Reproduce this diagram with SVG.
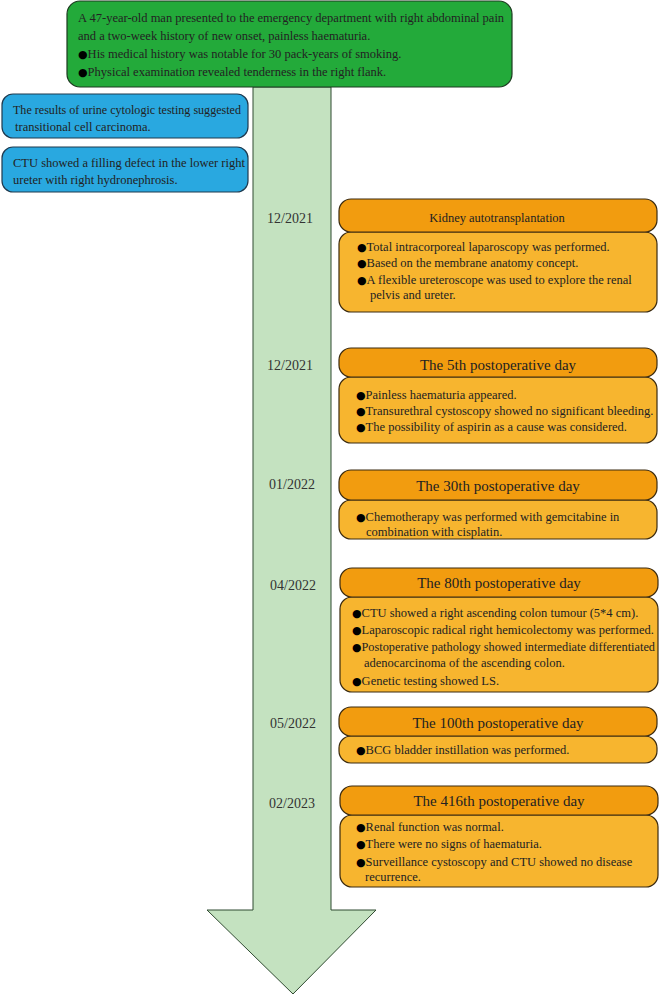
<svg xmlns="http://www.w3.org/2000/svg" width="661" height="994" viewBox="0 0 661 994">
<style>
text{font-family:"Liberation Serif","Times New Roman",serif;fill:#222}
.t{font-size:12.5px}
.b{font-family:"DejaVu Sans",sans-serif;font-size:11px;fill:#000}
.h{font-size:15px;text-anchor:middle}
.hs{font-size:12.5px;text-anchor:middle}
.d{font-size:14px;text-anchor:middle;fill:#333}
.hd{fill:#f29c0f;stroke:#3a2a10;stroke-width:1.2}
.bd{fill:#f7b52f;stroke:#3a2a10;stroke-width:1.2}
.bl{fill:#29a8e0;stroke:#1f3a4f;stroke-width:1.2}
</style>
<g id="connectors">
<path d="M253,87 L331,87 L331,910 L376,910 L293,994 L207,910 L253,910 Z" fill="#c4e2c0" stroke="#2f4a30" stroke-width="1"/>
</g>
<g id="intro">
<rect x="67" y="1" width="445" height="86" rx="13" fill="#23aa3a" stroke="#1d3a20" stroke-width="1.2"/>
<text class="t" x="78" y="22">A 47-year-old man presented to the emergency department with right abdominal pain</text>
<text class="t" x="78" y="40">and a two-week history of new onset, painless haematuria.</text>
<text class="t" x="78" y="58"><tspan class="b">●</tspan>His medical history was notable for 30 pack-years of smoking.</text>
<text class="t" x="78" y="76"><tspan class="b">●</tspan>Physical examination revealed tenderness in the right flank.</text>
</g>
<g id="cytology">
<rect x="2" y="94" width="246" height="44" rx="11" class="bl"/>
<text class="t" x="13" y="114" textLength="228" lengthAdjust="spacingAndGlyphs">The results of urine cytologic testing suggested</text>
<text class="t" x="15" y="131">transitional cell carcinoma.</text>
</g>
<g id="ctu">
<rect x="2" y="147" width="246" height="45" rx="11" class="bl"/>
<text class="t" x="13" y="167">CTU showed a filling defect in the lower right</text>
<text class="t" x="13" y="184">ureter with right hydronephrosis.</text>
</g>
<g id="s1">
<text class="d" x="290" y="223">12/2021</text>
<rect x="339" y="232" width="318" height="80" rx="12" class="bd"/>
<rect x="339" y="199" width="318" height="33" rx="12" class="hd"/>
<text class="hs" x="497" y="222">Kidney autotransplantation</text>
<text class="t" x="357" y="251"><tspan class="b">●</tspan>Total intracorporeal laparoscopy was performed.</text>
<text class="t" x="357" y="267"><tspan class="b">●</tspan>Based on the membrane anatomy concept.</text>
<text class="t" x="357" y="284"><tspan class="b">●</tspan>A flexible ureteroscope was used to explore the renal</text>
<text class="t" x="370" y="299">pelvis and ureter.</text>
</g>
<g id="s2">
<text class="d" x="290" y="370">12/2021</text>
<rect x="339" y="377" width="318" height="66" rx="12" class="bd"/>
<rect x="339" y="348" width="318" height="29" rx="12" class="hd"/>
<text class="h" x="498" y="370">The 5th postoperative day</text>
<text class="t" x="356" y="399"><tspan class="b">●</tspan>Painless haematuria appeared.</text>
<text class="t" x="356" y="415"><tspan class="b">●</tspan>Transurethral cystoscopy showed no significant bleeding.</text>
<text class="t" x="356" y="431"><tspan class="b">●</tspan>The possibility of aspirin as a cause was considered.</text>
</g>
<g id="s3">
<text class="d" x="292" y="489">01/2022</text>
<rect x="339" y="500" width="318" height="39" rx="12" class="bd"/>
<rect x="339" y="470" width="318" height="30" rx="12" class="hd"/>
<text class="h" x="498" y="491">The 30th postoperative day</text>
<text class="t" x="356" y="521"><tspan class="b">●</tspan>Chemotherapy was performed with gemcitabine in</text>
<text class="t" x="366" y="536">combination with cisplatin.</text>
</g>
<g id="s4">
<text class="d" x="293" y="590">04/2022</text>
<rect x="340" y="597" width="318" height="95" rx="12" class="bd"/>
<rect x="340" y="568" width="318" height="29" rx="12" class="hd"/>
<text class="h" x="499" y="588">The 80th postoperative day</text>
<text class="t" x="352" y="617"><tspan class="b">●</tspan>CTU showed a right ascending colon tumour (5*4 cm).</text>
<text class="t" x="352" y="634"><tspan class="b">●</tspan>Laparoscopic radical right hemicolectomy was performed.</text>
<text class="t" x="352" y="651" textLength="303" lengthAdjust="spacingAndGlyphs"><tspan class="b">●</tspan>Postoperative pathology showed intermediate differentiated</text>
<text class="t" x="364" y="667">adenocarcinoma of the ascending colon.</text>
<text class="t" x="352" y="685"><tspan class="b">●</tspan>Genetic testing showed LS.</text>
</g>
<g id="s5">
<text class="d" x="293" y="728">05/2022</text>
<rect x="339" y="736" width="318" height="27" rx="12" class="bd"/>
<rect x="339" y="707" width="318" height="29" rx="12" class="hd"/>
<text class="h" x="498" y="728">The 100th postoperative day</text>
<text class="t" x="356" y="754"><tspan class="b">●</tspan>BCG bladder instillation was performed.</text>
</g>
<g id="s6">
<text class="d" x="292" y="808">02/2023</text>
<rect x="340" y="815" width="318" height="72" rx="12" class="bd"/>
<rect x="340" y="786" width="318" height="29" rx="12" class="hd"/>
<text class="h" x="499" y="806">The 416th postoperative day</text>
<text class="t" x="356" y="831"><tspan class="b">●</tspan>Renal function was normal.</text>
<text class="t" x="356" y="848"><tspan class="b">●</tspan>There were no signs of haematuria.</text>
<text class="t" x="356" y="866"><tspan class="b">●</tspan>Surveillance cystoscopy and CTU showed no disease</text>
<text class="t" x="365" y="881">recurrence.</text>
</g>
</svg>
